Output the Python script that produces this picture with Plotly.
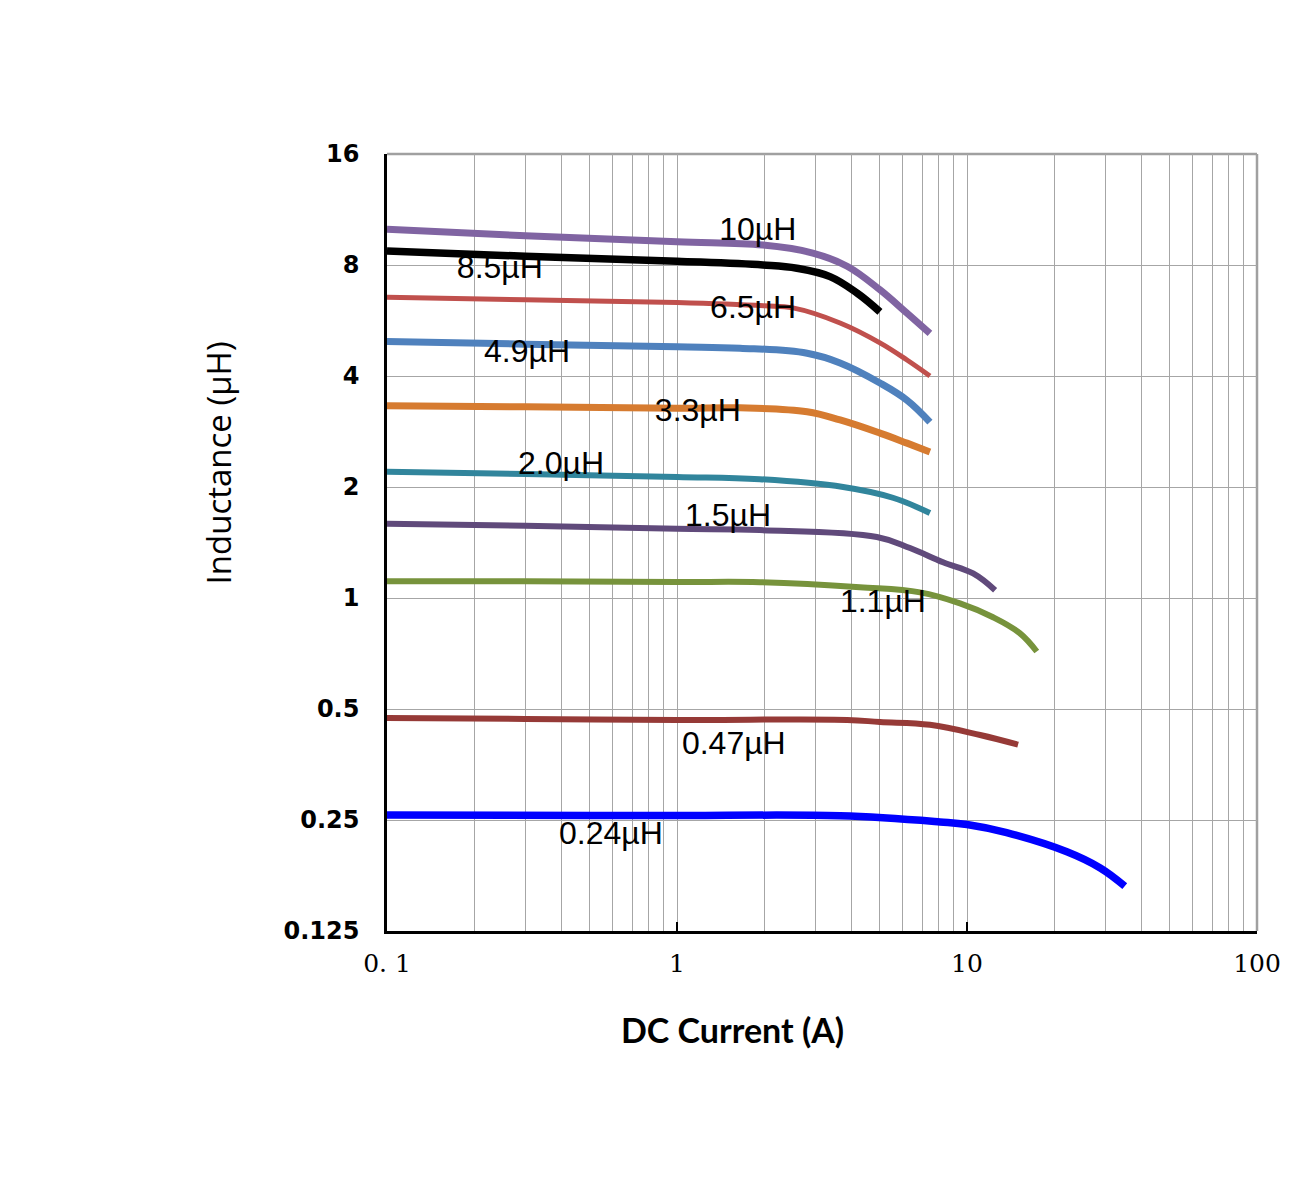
import numpy as np
import plotly.graph_objects as go

# ---- data ----
series_names = ["10µH", "8.5µH", "6.5µH", "4.9µH", "3.3µH", "2.0µH", "1.5µH", "1.1µH", "0.47µH", "0.24µH"]

i_10 = [0.1, 0.3, 1.0, 1.98, 2.94, 3.86, 5.01, 6.21, 7.45]
l_10 = [10.0, 9.6, 9.25, 9.06, 8.62, 7.94, 6.85, 5.92, 5.22]

i_85 = [0.1, 0.3, 1.0, 1.98, 2.59, 3.37, 4.18, 5.01]
l_85 = [8.73, 8.45, 8.19, 8.0, 7.84, 7.44, 6.71, 5.97]

i_65 = [0.1, 0.3, 1.0, 2.0, 2.51, 3.65, 5.01, 6.21, 7.45]
l_65 = [6.54, 6.44, 6.33, 6.2, 6.12, 5.57, 4.92, 4.42, 4.0]

i_49 = [0.1, 0.3, 1.0, 1.65, 2.81, 3.65, 5.01, 6.21, 7.45]
l_49 = [4.96, 4.88, 4.80, 4.76, 4.61, 4.34, 3.83, 3.44, 3.0]

i_33 = [0.1, 0.3, 1.0, 1.65, 2.81, 3.65, 5.01, 6.21, 7.45]
l_33 = [3.32, 3.30, 3.27, 3.28, 3.2, 3.04, 2.80, 2.63, 2.49]

i_20 = [0.1, 0.3, 1.0, 1.93, 3.74, 5.55, 7.45]
l_20 = [2.2, 2.17, 2.13, 2.1, 2.0, 1.87, 1.70]

i_15 = [0.1, 0.3, 1.0, 1.93, 4.89, 6.36, 8.27, 10.5, 12.5]
l_15 = [1.59, 1.57, 1.54, 1.528, 1.464, 1.366, 1.25, 1.166, 1.05]

i_11 = [0.1, 0.3, 1.0, 1.93, 4.27, 6.89, 9.46, 12.3, 15.2, 17.4]
l_11 = [1.11, 1.11, 1.105, 1.104, 1.07, 1.036, 0.967, 0.887, 0.803, 0.716]

i_047 = [0.1, 0.3, 1.0, 3.86, 5.01, 7.45, 11.1, 15.0]
l_047 = [0.473, 0.47, 0.467, 0.467, 0.461, 0.453, 0.425, 0.40]

i_024 = [0.1, 0.5, 1.0, 3.65, 8.07, 10.0, 13.7, 22.1, 28.8, 35.0]
l_024 = [0.258, 0.257, 0.257, 0.2566, 0.247, 0.243, 0.231, 0.205, 0.1853, 0.1654]

currents = [i_10, i_85, i_65, i_49, i_33, i_20, i_15, i_11, i_047, i_024]
inductances = [l_10, l_85, l_65, l_49, l_33, l_20, l_15, l_11, l_047, l_024]

# label anchor positions (data coordinates)
label_x = [1.90, 0.245, 1.83, 0.304, 1.18, 0.398, 1.50, 5.13, 1.57, 0.592]
label_y = [9.83, 7.75, 6.04, 4.59, 3.18, 2.28, 1.65, 0.963, 0.397, 0.226]

x_tickvals = [0.1, 1, 10, 100]
x_ticktext = ["0. 1", "1", "10", "100"]
y_tickvals = [0.125, 0.25, 0.5, 1, 2, 4, 8, 16]
y_ticktext = ["0.125", "0.25", "0.5", "1", "2", "4", "8", "16"]

colors = ["#8064A2", "#000000", "#C0504D", "#4F81BD", "#D67B30",
          "#31859C", "#604A7B", "#77933C", "#963A37", "#0000FF"]
widths = [7, 7.5, 5, 7, 7, 6, 6, 6, 6, 7.5]

fig = go.Figure()
for name, xs, ys, c, w in zip(series_names, currents, inductances, colors, widths):
    fig.add_trace(go.Scatter(x=xs, y=ys, mode="lines", name=name,
                             line=dict(color=c, width=w, shape="spline", smoothing=1.1),
                             showlegend=False, hoverinfo="skip"))

fig.add_trace(go.Scatter(x=label_x, y=label_y, mode="text", text=series_names,
                         textposition="middle center",
                         textfont=dict(family="Liberation Sans, Arial", size=32, color="#000000"),
                         showlegend=False, hoverinfo="skip"))

minor_x = [m * d for d in (0.1, 1, 10) for m in range(2, 10)]

fig.update_xaxes(type="log", range=[-1, 2],
                 tickvals=x_tickvals, ticktext=x_ticktext,
                 tickfont=dict(family="DejaVu Serif", size=25, color="#000"),
                 showgrid=True, gridcolor="#A6A6A6", gridwidth=1,
                 minor=dict(tickvals=minor_x, showgrid=True, gridcolor="#A6A6A6", gridwidth=1, ticks=""),
                 showline=True, linecolor="#000", linewidth=2.5,
                 ticks="inside", ticklen=9, tickcolor="#000", tickwidth=1.5,
                 ticklabelstandoff=8, zeroline=False)

fig.update_yaxes(type="log", range=[np.log10(0.125), np.log10(16)],
                 tickvals=y_tickvals, ticktext=y_ticktext,
                 tickfont=dict(family="DejaVu Sans", size=24, color="#000", weight="bold"),
                 showgrid=True, gridcolor="#A6A6A6", gridwidth=1,
                 showline=True, linecolor="#000", linewidth=2.5,
                 ticks="", ticklabelstandoff=20, zeroline=False)

# top/right gray frame
fig.add_shape(type="line", xref="paper", yref="paper", x0=0, x1=1, y0=1, y1=1,
              line=dict(color="#A0A0A0", width=2.5), layer="below")
fig.add_shape(type="line", xref="paper", yref="paper", x0=1, x1=1, y0=0, y1=1,
              line=dict(color="#A0A0A0", width=2.5), layer="below")

fig.add_annotation(text="<b>DC Current (A)</b>", xref="paper", yref="paper",
                   x=0.397, y=-0.127, xanchor="center", yanchor="middle", showarrow=False,
                   font=dict(family="Lato, Open Sans", size=34, color="#000"))
fig.add_annotation(text="Inductance (µH)", xref="paper", yref="paper",
                   x=-0.194, y=0.602, xanchor="center", yanchor="middle",
                   showarrow=False, textangle=-90,
                   font=dict(family="Open Sans, Lato", size=33, color="#000"))

fig.update_layout(width=1300, height=1200,
                  margin=dict(l=379, r=51, t=146, b=277, autoexpand=False),
                  paper_bgcolor="#FFFFFF", plot_bgcolor="#FFFFFF")

fig.write_html("out.html")
